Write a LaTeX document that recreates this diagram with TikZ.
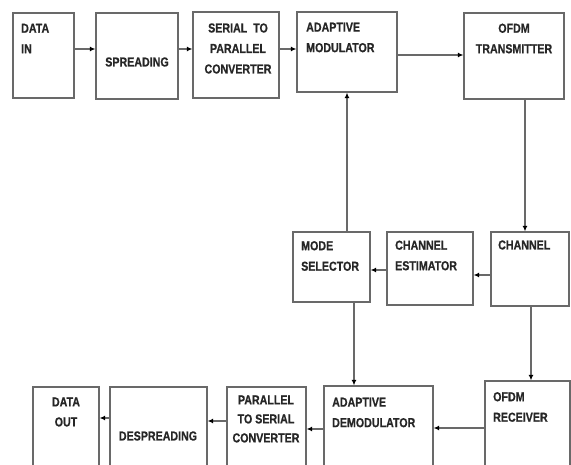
\documentclass[tikz,border=0pt]{standalone}
\usepackage{fontspec}
\newfontfamily\boxfont[FakeStretch=0.82, BoldFeatures={FakeBold=0.6}]{Liberation Sans}
\usetikzlibrary{arrows.meta}
\definecolor{lnc}{RGB}{105,105,105}
\tikzset{
  box/.style={draw=lnc, line width=1.3pt, fill=none, inner sep=0pt},
  lbl/.style={inner sep=0pt, font=\boxfont\bfseries\fontsize{13}{20.5}\selectfont, text=black!85},
  arr/.style={draw=lnc, line width=1.1pt, -{Latex[length=5.5pt,width=5pt,color=black]}}
}
\begin{document}
\begin{tikzpicture}[x=1pt,y=-1pt]
\useasboundingbox (0,0) rectangle (571,465);
\clip (0,0) rectangle (571,465);
\fill[white] (0,0) rectangle (571,465);
% boxes
\node[box, minimum width=61pt, minimum height=85pt] (din) at (43.5,55.5) {};
\node[box, minimum width=82pt, minimum height=86pt] (sp) at (137,56) {};
\node[box, minimum width=86pt, minimum height=86pt] (s2p) at (236,55) {};
\node[box, minimum width=100pt, minimum height=80pt] (amod) at (347,52) {};
\node[box, minimum width=100pt, minimum height=86pt] (otx) at (514,56) {};
\node[box, minimum width=78pt, minimum height=74pt] (ch) at (530,269) {};
\node[box, minimum width=86pt, minimum height=73pt] (est) at (430,268.5) {};
\node[box, minimum width=77pt, minimum height=70pt] (mode) at (331.5,267) {};
\node[box, minimum width=85pt, minimum height=109pt] (orx) at (527.5,435.5) {};
\node[box, minimum width=109pt, minimum height=104pt] (adem) at (378.5,438) {};
\node[box, minimum width=79pt, minimum height=103pt] (p2s) at (266.5,438.5) {};
\node[box, minimum width=97pt, minimum height=103pt] (desp) at (158.5,438.5) {};
\node[box, minimum width=66pt, minimum height=103pt] (dout) at (66,438.5) {};
% labels
\node[lbl, anchor=west, align=left] (tdin) at (21,38.5) {DATA\\IN};
\node[lbl] (tsp) at (137,62) {SPREADING};
\node[lbl, align=center] (ts2p) at (238,48.5) {SERIAL\ \ TO\\PARALLEL\\CONVERTER};
\node[lbl, anchor=west, align=left] (tamod) at (306,37.5) {ADAPTIVE\\MODULATOR};
\node[lbl, align=center] (totx) at (514,38.5) {OFDM\\TRANSMITTER};
\node[lbl, anchor=west] (tch) at (498,245) {CHANNEL};
\node[lbl, anchor=west, align=left] (test) at (395,255.5) {CHANNEL\\ESTIMATOR};
\node[lbl, anchor=west, align=left] (tmode) at (301,256) {MODE\\SELECTOR};
\node[lbl, anchor=west, align=left] (torx) at (493,407) {OFDM\\RECEIVER};
\node[lbl, anchor=west, align=left] (tadem) at (332,412.5) {ADAPTIVE\\DEMODULATOR};
\node[lbl, align=center, font=\boxfont\bfseries\fontsize{13}{19}\selectfont] (tp2s) at (266,419) {PARALLEL\\TO SERIAL\\CONVERTER};
\node[lbl] (tdesp) at (158,436) {DESPREADING};
\node[lbl, align=center, font=\boxfont\bfseries\fontsize{13}{20}\selectfont] (tdout) at (66,412) {DATA\\OUT};
% connectors
\draw[arr] (din.east |- 0,49) -- (sp.west |- 0,49);
\draw[arr] (sp.east |- 0,49) -- (s2p.west |- 0,49);
\draw[arr] (s2p.east |- 0,49) -- (amod.west |- 0,49);
\draw[arr] (amod.east |- 0,55) -- (otx.west |- 0,55);
\draw[arr] (otx.south -| 525,0) -- (ch.north -| 525,0);
\draw[arr] (ch.west |- 0,275) -- (est.east |- 0,275);
\draw[arr] (est.west |- 0,270) -- (mode.east |- 0,270);
\draw[arr] (mode.north -| amod.south) -- (amod.south);
\draw[arr] (ch.south -| 531,0) -- (orx.north -| 531,0);
\draw[arr] (mode.south -| 354,0) -- (adem.north -| 354,0);
\draw[arr] (orx.west |- 0,428) -- (adem.east |- 0,428);
\draw[arr] (adem.west |- 0,429) -- (p2s.east |- 0,429);
\draw[arr] (p2s.west |- 0,421) -- (desp.east |- 0,421);
\draw[arr] (desp.west |- 0,418) -- (dout.east |- 0,418);
\end{tikzpicture}
\end{document}
